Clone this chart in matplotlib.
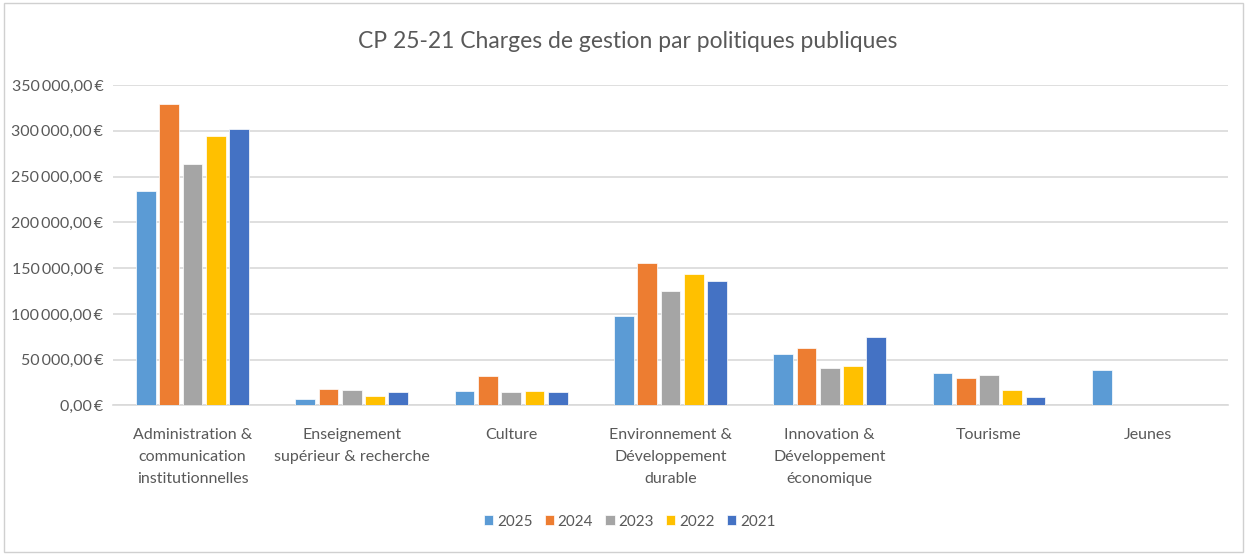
import matplotlib.pyplot as plt
import matplotlib.ticker as mticker
import numpy as np
from matplotlib.patches import Rectangle

plt.rcParams['font.family'] = ['Lato', 'DejaVu Sans']

categories = ['Administration &\ncommunication\ninstitutionnelles',
              'Enseignement\nsupérieur & recherche',
              'Culture',
              'Environnement &\nDéveloppement\ndurable',
              'Innovation &\nDéveloppement\néconomique',
              'Tourisme',
              'Jeunes']
years = ['2025', '2024', '2023', '2022', '2021']
v2025 = [234000, 7000, 15500, 97500, 56500, 35500, 38500]
v2024 = [329000, 17500, 32500, 156000, 62500, 30500, 0]
v2023 = [263500, 16500, 14200, 125000, 40500, 33000, 0]
v2022 = [294500, 10600, 15500, 143500, 42800, 16800, 0]
v2021 = [302500, 14200, 14200, 135500, 75000, 8800, 0]
series = [v2025, v2024, v2023, v2022, v2021]
colors = ['#5b9bd5', '#ed7d31', '#a5a5a5', '#ffc000', '#4472c4']

fig = plt.figure(figsize=(12.47, 5.55), dpi=100)
fig.patches.append(Rectangle((0.003, 0.005), 0.994, 0.99, transform=fig.transFigure,
                             fill=False, edgecolor='#d0d0d0', linewidth=1))
ax = fig.add_axes([0.0906, 0.2694, 0.894, 0.5774])

x = np.arange(len(categories))
slot = 0.146
bw = 0.124
for i, (vals, yr, c) in enumerate(zip(series, years, colors)):
    ax.bar(x + (i - 2) * slot, vals, bw, color=c, label=yr,
           edgecolor='white', linewidth=0.5, zorder=3)

ax.set_xlim(-0.5, len(categories) - 0.5)
ax.set_ylim(0, 350000)
ax.yaxis.set_major_locator(mticker.MultipleLocator(50000))

def fmt(v, pos):
    s = f'{v:,.2f}'.replace(',', '\u2009').replace('.', ',')
    return s + '\u2009€'

ax.yaxis.set_major_formatter(mticker.FuncFormatter(fmt))
ax.grid(axis='y', color='#d9d9d9', linewidth=1.2, zorder=0)
for s in ['top', 'right', 'left']:
    ax.spines[s].set_visible(False)
ax.spines['bottom'].set_color('#d9d9d9')
ax.spines['bottom'].set_linewidth(1.2)
ax.tick_params(axis='y', length=0, labelsize=11.5, colors='#595959', pad=7)
ax.tick_params(axis='x', length=0, labelsize=11.5, colors='#595959', pad=16)
ax.set_xticks(x)
ax.set_xticklabels(categories, linespacing=1.75)

fig.text(0.503, 0.925, 'CP 25-21 Charges de gestion par politiques publiques',
         ha='center', va='center', fontsize=16.5, color='#595959')

ax.legend(loc='center', bbox_to_anchor=(0.505, 0.06), bbox_transform=fig.transFigure,
          ncol=5, frameon=False, fontsize=11, labelcolor='#595959',
          handlelength=0.6, handleheight=0.6, handletextpad=0.25, columnspacing=0.8)

fig.savefig('out.png', dpi=100)
